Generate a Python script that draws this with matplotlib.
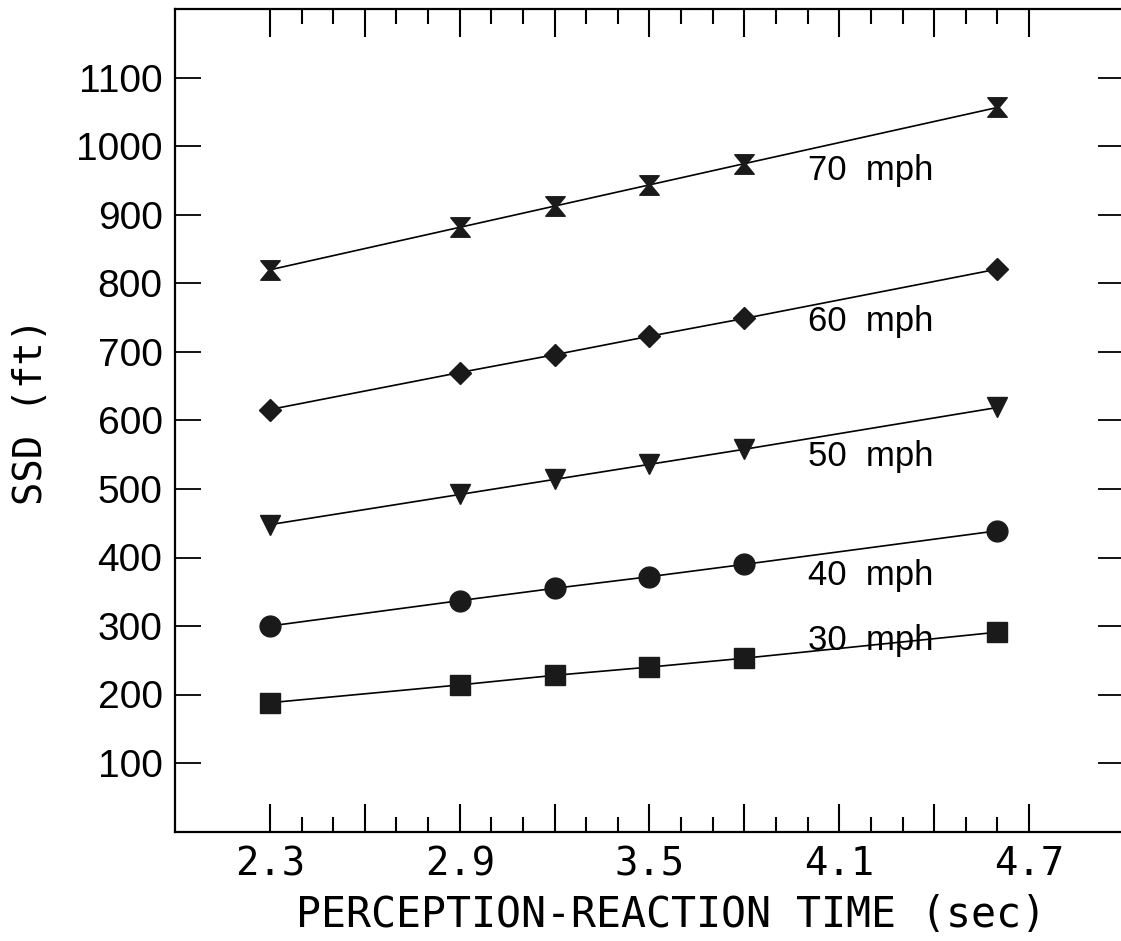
import numpy as np
import matplotlib
matplotlib.use("Agg")
import matplotlib.pyplot as plt
from matplotlib.path import Path
from matplotlib.ticker import FixedLocator, FuncFormatter

# perception-reaction time (sec)
prt = [2.3, 2.9, 3.2, 3.5, 3.8, 4.6]

# stopping sight distance (ft)
ssd_30 = [188, 214, 228, 240, 253, 291]
ssd_40 = [300, 337, 355, 372, 390, 439]
ssd_50 = [448, 492, 514, 536, 558, 619]
ssd_60 = [616, 670, 696, 723, 749, 821]
ssd_70 = [820, 882, 913, 944, 975, 1057]

speed_labels = ["30  mph", "40  mph", "50  mph", "60  mph", "70  mph"]
label_x = 4.0
label_y = [279, 374, 548, 745, 965]

x_major = [2.3, 2.6, 2.9, 3.2, 3.5, 3.8, 4.1, 4.4, 4.7]
x_labelled = [2.3, 2.9, 3.5, 4.1, 4.7]
x_minor = [round(v, 1) for v in np.arange(2.3, 4.71, 0.1)]
y_major = list(range(100, 1200, 100))

# hourglass marker for the 70 mph line
hourglass = Path(
    [(-1, 1), (1, 1), (0.18, 0), (1, -1), (-1, -1), (-0.18, 0), (-1, 1)],
    [Path.MOVETO] + [Path.LINETO] * 5 + [Path.CLOSEPOLY],
)

fig = plt.figure(figsize=(11.21, 9.41), dpi=100)
W, H = 1121, 941
ax = fig.add_axes([175 / W, 1 - 831.5 / H, (1124 - 175) / W, (831.5 - 9.5) / H])

series = [
    (ssd_30, "s", 14),
    (ssd_40, "o", 15),
    (ssd_50, "v", 15),
    (ssd_60, "D", 11),
    (ssd_70, hourglass, 14),
]
for vals, mk, ms in series:
    ax.plot(prt, vals, color="black", linewidth=1.2, marker=mk, markersize=ms,
            markerfacecolor="#1a1a1a", markeredgecolor="#1a1a1a", clip_on=False)

for txt, yv in zip(speed_labels, label_y):
    ax.text(label_x, yv, txt, fontsize=25, family="Liberation Sans",
            ha="left", va="center")

ax.set_xlim(2.0, 5.0)
ax.set_ylim(0, 1200)

ax.xaxis.set_major_locator(FixedLocator(x_major))
ax.xaxis.set_minor_locator(FixedLocator([v for v in x_minor if v not in x_major]))
ax.xaxis.set_major_formatter(
    FuncFormatter(lambda v, p: f"{v:.1f}" if any(abs(v - l) < 1e-6 for l in x_labelled) else ""))
ax.yaxis.set_major_locator(FixedLocator(y_major))

ax.tick_params(axis="x", which="major", direction="in", top=True, length=20, width=1.5,
               pad=10, labelsize=28)
ax.tick_params(axis="x", which="minor", direction="in", top=True, length=11, width=1.5)
ax.tick_params(axis="y", which="major", direction="in", right=True, length=19, width=1.3,
               pad=9, labelsize=28)
for lab in ax.get_xticklabels():
    lab.set_family("DejaVu Sans Mono")
for lab in ax.get_yticklabels():
    lab.set_family("Liberation Sans")

for s in ["left", "bottom", "top"]:
    ax.spines[s].set_linewidth(1.6)
ax.spines["right"].set_visible(False)

ax.set_xlabel("PERCEPTION-REACTION TIME (sec)", fontsize=30, family="DejaVu Sans Mono")
ax.xaxis.set_label_coords((671 - 175) / 949, -(915 - 831.5) / 822)
ax.xaxis.label.set_va("center")
ax.set_ylabel("SSD (ft)", fontsize=28, family="DejaVu Sans Mono")
ax.yaxis.set_label_coords(-(175 - 31) / 949, (831.5 - 412) / 822)
ax.yaxis.label.set_va("center")

fig.savefig("out.png", dpi=100)
